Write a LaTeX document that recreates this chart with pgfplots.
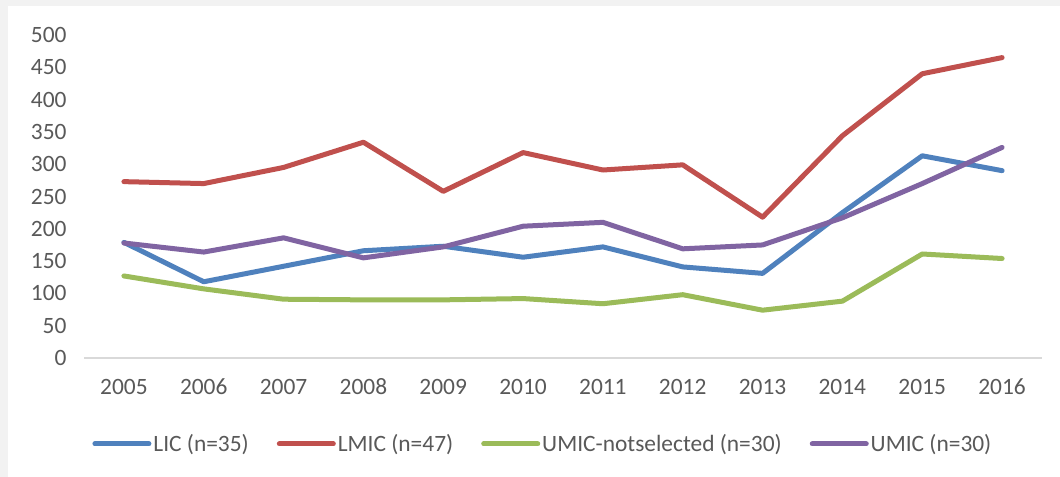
\documentclass[border=0pt]{standalone}
\usepackage{pgfplots}
\pgfplotsset{compat=1.18}
\usepackage{fontspec}
\setmainfont{Carlito}

\definecolor{bggray}{HTML}{F2F2F2}
\definecolor{axgray}{HTML}{D9D9D9}
\definecolor{txtgray}{HTML}{595959}
\definecolor{licblue}{HTML}{4F81BD}
\definecolor{lmicred}{HTML}{C0504D}
\definecolor{umicgreen}{HTML}{9BBB59}
\definecolor{umicpurple}{HTML}{8064A2}

\begin{document}
\begin{tikzpicture}
\useasboundingbox (0,0) rectangle (1060bp,477bp);
\fill[bggray] (0,0) rectangle (1060bp,477bp);
\fill[white] (8bp,0) rectangle (1060bp,471bp);
\begin{axis}[
  at={(84bp,119bp)}, anchor=south west,
  scale only axis,
  width=958bp, height=323bp,
  xmin=2004.5, xmax=2016.5,
  ymin=0, ymax=500,
  xtick={2005,...,2016},
  ytick={0,50,...,500},
  axis x line*=bottom, axis y line*=left,
  x axis line style={draw=axgray, line width=1.2bp, -},
  y axis line style={draw=none},
  major tick length=0pt,
  /pgf/number format/assume math mode=true,
  /pgf/number format/1000 sep={},
  tick label style={font=\fontsize{23.5}{28}\selectfont, text=txtgray},
  xticklabel style={anchor=base, yshift=-37bp},
  yticklabel style={xshift=-14bp},
  every axis plot/.append style={line width=5bp, line join=round, line cap=round},
  legend columns=4,
  legend style={draw=none, fill=none,
    at={(axis description cs:0.479,-0.266)}, anchor=center,
    font=\fontsize{23.5}{28}\selectfont, text=txtgray,
    /tikz/every even column/.append style={column sep=26bp}},
  legend image code/.code={\draw[#1] (0bp,0bp) -- (54bp,0bp);},
]
\addplot[licblue] coordinates {
(2005,179) (2006,118) (2007,142) (2008,166) (2009,173) (2010,156)
(2011,172) (2012,141) (2013,131) (2014,225) (2015,313) (2016,290)};
\addlegendentry{LIC (n=35)}
\addplot[lmicred] coordinates {
(2005,273) (2006,270) (2007,295) (2008,334) (2009,258) (2010,318)
(2011,291) (2012,299) (2013,218) (2014,344) (2015,440) (2016,465)};
\addlegendentry{LMIC (n=47)}
\addplot[umicgreen] coordinates {
(2005,127) (2006,107) (2007,91) (2008,90) (2009,90) (2010,92)
(2011,84) (2012,98) (2013,74) (2014,88) (2015,161) (2016,154)};
\addlegendentry{UMIC-notselected (n=30)}
\addplot[umicpurple] coordinates {
(2005,178) (2006,164) (2007,186) (2008,155) (2009,172) (2010,204)
(2011,210) (2012,169) (2013,175) (2014,217) (2015,270) (2016,326)};
\addlegendentry{UMIC (n=30)}
\end{axis}
\end{tikzpicture}
\end{document}
